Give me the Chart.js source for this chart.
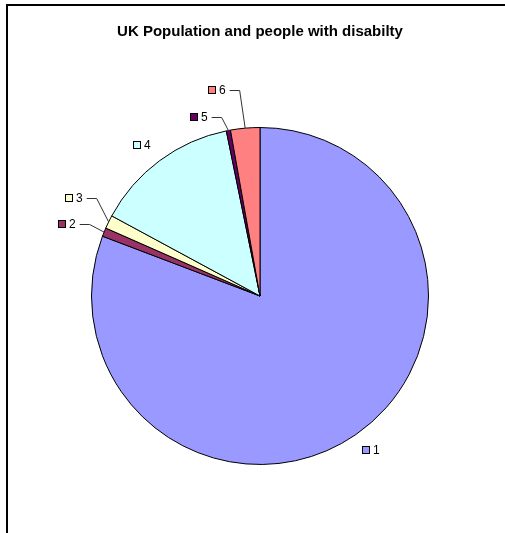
<!DOCTYPE html>
<html>
<head>
<meta charset="utf-8">
<script src="https://cdn.jsdelivr.net/npm/chart.js@4"></script>
<style>
html, body { margin: 0; padding: 0; background: #fff; }
</style>
</head>
<body>
<canvas id="pieChart" width="505" height="533"></canvas>
<script>
// Pie data
var categories = ['1', '2', '3', '4', '5', '6'];
var shares = [80.7, 0.83, 1.28, 13.9, 0.4, 2.8];

var sliceColors = ['#9999FF', '#993366', '#FFFFCC', '#CCFFFF', '#660066', '#FF8080'];

// label nudges (px) from the plain radial spot; small slices also get a leader line
var labelShift = [[3, -3], [-17, 0], [-15, -14], [-5, 2], [-25, 8], [-26, -16]];
var hasLeader = [false, true, true, false, true, true];

var labelFont = '12px "Liberation Sans", Arial, sans-serif';

// black frame on top and left, like the pasted Excel chart
var frame = {
    id: 'frame',
    beforeDraw: function (chart) {
        var c = chart.ctx;
        c.save();
        c.fillStyle = '#000';
        c.fillRect(6, 4, chart.width - 6, 2);
        c.fillRect(6, 4, 2, chart.height - 4);
        c.restore();
    }
};

var sliceLabels = {
    id: 'sliceLabels',
    afterDatasetsDraw: function (chart) {
        var c = chart.ctx;
        var arcs = chart.getDatasetMeta(0).data;
        c.save();
        c.font = labelFont;
        c.textBaseline = 'middle';
        arcs.forEach(function (arc, i) {
            var p = arc.getProps(['x', 'y', 'startAngle', 'endAngle', 'outerRadius'], true);
            var mid = (p.startAngle + p.endAngle) / 2;
            var ex = p.x + Math.cos(mid) * p.outerRadius;
            var ey = p.y + Math.sin(mid) * p.outerRadius;
            var text = chart.data.labels[i];
            var w = 7 + 4 + c.measureText(text).width;
            var cx = p.x + Math.cos(mid) * (p.outerRadius + 22) + labelShift[i][0];
            var cy = p.y + Math.sin(mid) * (p.outerRadius + 22) + labelShift[i][1];
            var left = Math.round(cx - w / 2);
            cy = Math.round(cy);

            if (hasLeader[i]) {
                c.strokeStyle = '#333';
                c.lineWidth = 1;
                c.beginPath();
                c.moveTo(left + w + 4, cy + 0.5);
                c.lineTo(left + w + 14, cy + 0.5);
                c.lineTo(ex, ey);
                c.stroke();
            }

            c.lineWidth = 1;
            c.fillStyle = sliceColors[i];
            c.fillRect(left + 0.5, cy - 3.5, 7, 7);
            c.strokeStyle = '#000';
            c.strokeRect(left + 0.5, cy - 3.5, 7, 7);
            c.fillStyle = '#000';
            c.fillText(text, left + 11, cy + 1);
        });
        c.restore();
    }
};

new Chart(document.getElementById('pieChart'), {
    type: 'pie',
    data: {
        labels: categories,
        datasets: [{
            data: shares,
            backgroundColor: sliceColors,
            borderColor: '#000',
            borderWidth: 1
        }]
    },
    options: {
        responsive: false,
        animation: false,
        layout: { padding: { left: 91, right: 76, top: 0, bottom: 68 } },
        plugins: {
            legend: { display: false },
            tooltip: { enabled: false },
            title: {
                display: true,
                text: 'UK Population and people with disabilty',
                color: '#000',
                font: { family: '"Liberation Sans", Arial, sans-serif', size: 15, weight: 'bold' },
                padding: { top: 23, bottom: 86 }
            }
        }
    },
    plugins: [frame, sliceLabels]
});
</script>
</body>
</html>
